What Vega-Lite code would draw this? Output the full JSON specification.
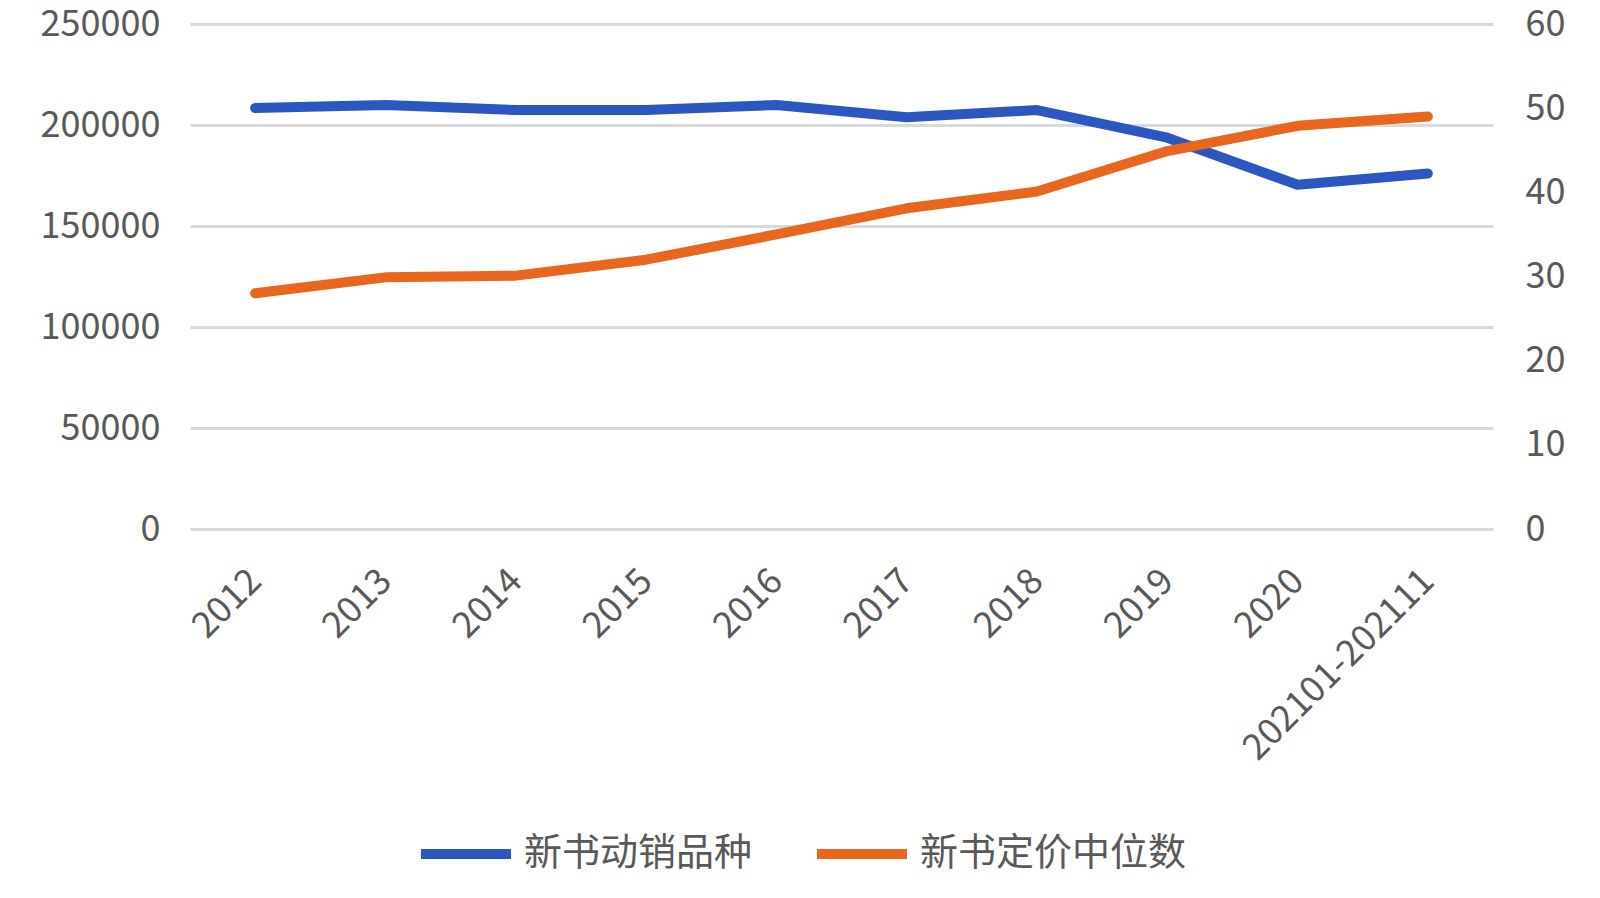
{
  "$schema": "https://vega.github.io/schema/vega-lite/v6.json",
  "width": 1303,
  "height": 505,
  "autosize": {"type": "none"},
  "padding": {"left": 190, "top": 24, "right": 107, "bottom": 369},
  "background": "white",
  "config": {
    "view": {"stroke": null},
    "font": "Noto Sans CJK SC",
    "axis": {
      "labelColor": "#595959",
      "labelFontSize": 36,
      "labelFont": "Noto Sans CJK SC",
      "domain": false,
      "ticks": false,
      "title": null,
      "gridColor": "#d9d9d9",
      "gridWidth": 3,
      "labelLimit": 0
    }
  },
  "data": {
    "values": [
      {"year": "2012", "series": "新书动销品种", "value": 208400},
      {"year": "2013", "series": "新书动销品种", "value": 209900},
      {"year": "2014", "series": "新书动销品种", "value": 207400},
      {"year": "2015", "series": "新书动销品种", "value": 207400},
      {"year": "2016", "series": "新书动销品种", "value": 209900},
      {"year": "2017", "series": "新书动销品种", "value": 203800},
      {"year": "2018", "series": "新书动销品种", "value": 207400},
      {"year": "2019", "series": "新书动销品种", "value": 193700},
      {"year": "2020", "series": "新书动销品种", "value": 170400},
      {"year": "202101-202111", "series": "新书动销品种", "value": 176000},
      {"year": "2012", "series": "新书定价中位数", "value": 28},
      {"year": "2013", "series": "新书定价中位数", "value": 29.9},
      {"year": "2014", "series": "新书定价中位数", "value": 30.1},
      {"year": "2015", "series": "新书定价中位数", "value": 32},
      {"year": "2016", "series": "新书定价中位数", "value": 35},
      {"year": "2017", "series": "新书定价中位数", "value": 38.1},
      {"year": "2018", "series": "新书定价中位数", "value": 40.1},
      {"year": "2019", "series": "新书定价中位数", "value": 44.9},
      {"year": "2020", "series": "新书定价中位数", "value": 47.9},
      {"year": "202101-202111", "series": "新书定价中位数", "value": 49}
    ]
  },
  "layer": [
    {
      "transform": [{"filter": "datum.series === '新书动销品种'"}],
      "mark": {"type": "line", "strokeWidth": 10, "strokeCap": "round", "strokeJoin": "round"},
      "encoding": {
        "x": {
          "field": "year", "type": "ordinal", "sort": null,
          "scale": {"type": "point", "padding": 0.5},
          "axis": {"labelAngle": -45, "labelPadding": 34, "labelOffset": -12, "grid": false, "labelLimit": 0}
        },
        "y": {
          "field": "value", "type": "quantitative",
          "scale": {"domain": [0, 250000], "nice": false},
          "axis": {"values": [0, 50000, 100000, 150000, 200000, 250000], "format": "d", "labelPadding": 30, "grid": true}
        },
        "color": {
          "field": "series", "type": "nominal",
          "scale": {"domain": ["新书动销品种", "新书定价中位数"], "range": ["#2C57C0", "#E8661D"]},
          "legend": {
            "orient": "none", "legendX": 226, "legendY": 780, "direction": "horizontal",
            "title": null, "symbolType": "stroke", "symbolStrokeWidth": 10, "symbolSize": 8100,
            "labelFontSize": 38, "labelColor": "#595959", "labelFont": "Noto Sans CJK SC",
            "columnPadding": 44, "labelLimit": 0, "labelOffset": 8
          }
        }
      }
    },
    {
      "transform": [{"filter": "datum.series === '新书定价中位数'"}],
      "mark": {"type": "line", "strokeWidth": 10, "strokeCap": "round", "strokeJoin": "round"},
      "encoding": {
        "x": {"field": "year", "type": "ordinal", "sort": null, "scale": {"type": "point", "padding": 0.5}},
        "y": {
          "field": "value", "type": "quantitative",
          "scale": {"domain": [0, 60], "nice": false},
          "axis": {"orient": "right", "values": [0, 10, 20, 30, 40, 50, 60], "labelPadding": 32, "grid": false}
        },
        "color": {"field": "series", "type": "nominal"}
      }
    }
  ],
  "resolve": {"scale": {"y": "independent"}}
}
